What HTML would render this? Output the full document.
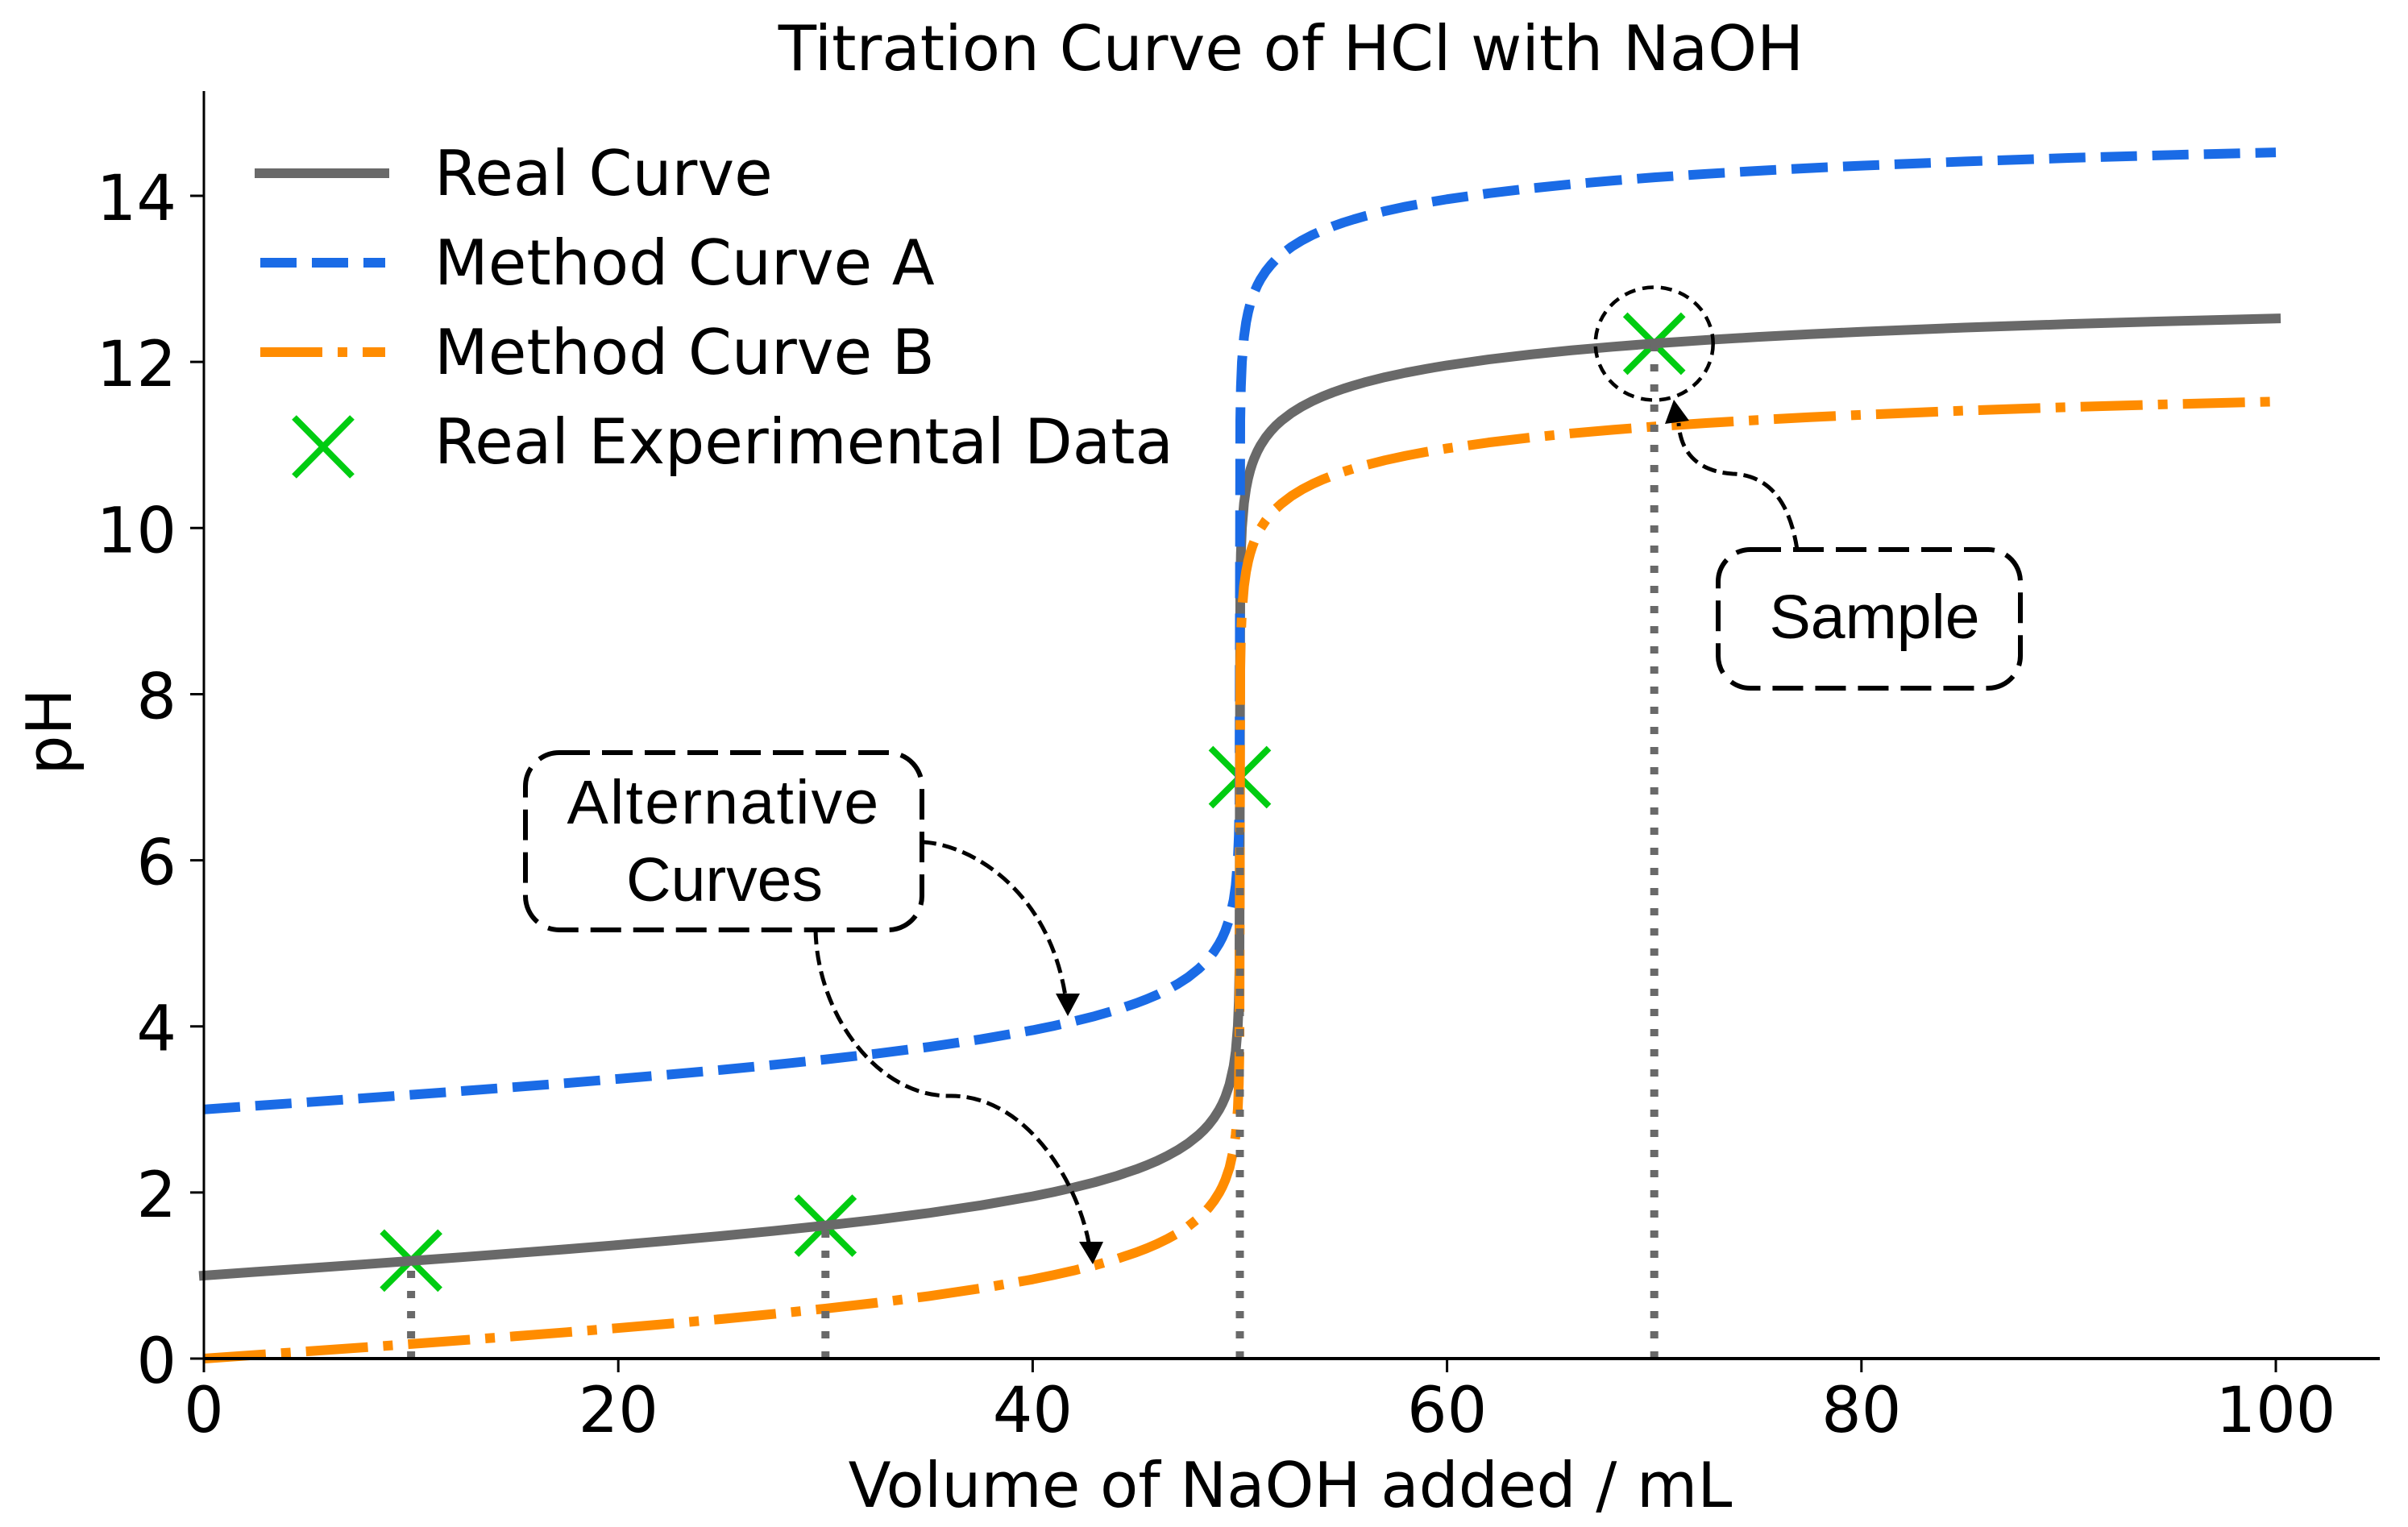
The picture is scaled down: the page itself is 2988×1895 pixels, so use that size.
<!DOCTYPE html>
<html lang="en">
<head>
<meta charset="utf-8">
<title>Titration Curve of HCl with NaOH</title>
<style>
html,body{margin:0;padding:0;background:#fff;}
svg{display:block;}
text{font-family:"DejaVu Sans",sans-serif;fill:#000;}
.note{font-family:"Liberation Sans",sans-serif;font-size:77px;text-anchor:middle;}
.ann{fill:none;stroke:#000;stroke-width:5px;stroke-dasharray:18 8;}
.box{fill:none;stroke:#000;stroke-width:6px;stroke-dasharray:38 15;}
</style>
</head>
<body>
<svg id="chart" xmlns="http://www.w3.org/2000/svg" width="2988" height="1895" viewBox="0 0 2988 1895">
  <rect width="2988" height="1895" fill="#fff"/>
  <text x="1602" y="87" font-size="77.4" text-anchor="middle">Titration Curve of HCl with NaOH</text>
  <g id="marks"></g>
  <line x1="253" y1="113" x2="253" y2="1688" stroke="#000" stroke-width="3"/>
  <line x1="252" y1="1686" x2="2953" y2="1686" stroke="#000" stroke-width="4"/>
  <g id="ticks"></g>
  <text x="1601" y="1870" font-size="77.4" text-anchor="middle">Volume of NaOH added / mL</text>
  <text transform="translate(88 908) rotate(-90)" font-size="77.4" text-anchor="middle">pH</text>

  <g>
    <line x1="316" y1="215" x2="483" y2="215" stroke="#696969" stroke-width="12"/>
    <text x="539" y="242" font-size="77.4">Real Curve</text>
    <line x1="323" y1="326" x2="478" y2="326" stroke="#1a6be6" stroke-width="12" stroke-dasharray="45 19"/>
    <text x="539" y="353" font-size="77.4">Method Curve A</text>
    <line x1="323" y1="437" x2="478" y2="437" stroke="#ff8c00" stroke-width="12" stroke-dasharray="77 19 12 19"/>
    <text x="539" y="464" font-size="77.4">Method Curve B</text>
    <path d="M365 518L437 591M437 518L365 591" fill="none" stroke="#00cc11" stroke-width="8"/>
    <text x="539" y="575" font-size="77.4">Real Experimental Data</text>
  </g>

  <g>
    <rect class="box" x="652" y="934" width="492" height="220" rx="42" ry="42"/>
    <text class="note" x="898" y="1022" style="letter-spacing:2.3px">Alternative</text>
    <text class="note" x="899" y="1118">Curves</text>
    <path class="ann" d="M1144 1045C1200 1047 1300 1100 1322 1236"/>
    <path d="M1325 1261L1310 1233L1340 1233Z" fill="#000"/>
    <path class="ann" d="M1012 1154C1014 1260 1090 1362 1180 1360C1270 1360 1335 1460 1351 1542"/>
    <path d="M1356 1569L1339 1541L1369 1541Z" fill="#000"/>
  </g>

  <g>
    <rect class="box" x="2132" y="682" width="375" height="172" rx="40" ry="40"/>
    <text class="note" x="2326" y="792">Sample</text>
    <path class="ann" d="M2230 682C2222 630 2200 590 2150 588C2105 585 2085 560 2083 525"/>
    <path d="M2077 496L2066 526L2096 522Z" fill="#000"/>
  </g>
</svg>

<script>
const volumes = [0,2.5,5,7.5,10,12.5,15,17.5,20,22.5,25,27.5,30,32.5,35,37.5,40,41,42,43,44,45,45.5,46,46.5,47,47.5,48,48.25,48.5,48.75,49,49.15,49.3,49.5,49.7,49.8,49.9,49.95,49.98,50,50.02,50.05,50.1,50.2,50.3,50.4,50.5,50.6,50.7,50.85,51,51.25,51.5,51.75,52,52.5,53,53.5,54,54.5,55,55.5,56,57,58,59,60,62,64,66,68,70,72.5,75,77.5,80,85,90,95,100];
const realPH = [1.000,1.044,1.087,1.131,1.176,1.222,1.269,1.317,1.368,1.421,1.477,1.537,1.602,1.673,1.753,1.845,1.954,2.005,2.061,2.123,2.195,2.279,2.327,2.380,2.441,2.510,2.591,2.690,2.749,2.817,2.898,2.996,3.067,3.152,3.299,3.521,3.698,4.000,4.301,4.699,7.000,9.301,9.699,10.000,10.300,10.476,10.600,10.697,10.776,10.842,10.926,10.996,11.092,11.170,11.236,11.292,11.387,11.464,11.529,11.585,11.634,11.678,11.717,11.753,11.816,11.870,11.917,11.959,12.030,12.089,12.140,12.183,12.222,12.264,12.301,12.334,12.363,12.414,12.456,12.492,12.523];
const methodAPH = [3.000,3.044,3.087,3.131,3.176,3.222,3.269,3.317,3.368,3.421,3.477,3.537,3.602,3.673,3.753,3.845,3.954,4.005,4.061,4.123,4.195,4.279,4.327,4.380,4.441,4.510,4.591,4.690,4.749,4.817,4.898,4.996,5.067,5.152,5.299,5.521,5.698,6.000,6.301,6.699,9.000,11.301,11.699,12.000,12.300,12.476,12.600,12.697,12.776,12.842,12.926,12.996,13.092,13.170,13.236,13.292,13.387,13.464,13.529,13.585,13.634,13.678,13.717,13.753,13.816,13.870,13.917,13.959,14.030,14.089,14.140,14.183,14.222,14.264,14.301,14.334,14.363,14.414,14.456,14.492,14.523];
const methodBPH = [0.000,0.044,0.087,0.131,0.176,0.222,0.269,0.317,0.368,0.421,0.477,0.537,0.602,0.673,0.753,0.845,0.954,1.005,1.061,1.123,1.195,1.279,1.327,1.380,1.441,1.510,1.591,1.690,1.749,1.817,1.898,1.996,2.067,2.152,2.299,2.521,2.698,3.000,3.301,3.699,6.000,8.301,8.699,9.000,9.300,9.476,9.600,9.697,9.776,9.842,9.926,9.996,10.092,10.170,10.236,10.292,10.387,10.464,10.529,10.585,10.634,10.678,10.717,10.753,10.816,10.870,10.917,10.959,11.030,11.089,11.140,11.183,11.222,11.264,11.301,11.334,11.363,11.414,11.456,11.492,11.523];
const sampleVolumes = [10,30,50,70];
const samplePH = [1.18,1.60,7.00,12.22];
const xTickValues = [0,20,40,60,80,100];
const yTickValues = [0,2,4,6,8,10,12,14];

const NS = 'http://www.w3.org/2000/svg';
const xScale = function (v) { return 253 + v * 25.71; };
const yScale = function (p) { return 1686 - p * 103.07; };
const marks = document.getElementById('marks');
const ticks = document.getElementById('ticks');

function make(tag, parent, attrs) {
  const el = document.createElementNS(NS, tag);
  Object.keys(attrs).forEach(function (k) { el.setAttribute(k, attrs[k]); });
  parent.appendChild(el);
  return el;
}

function curvePoints(values) {
  return values.map(function (p, i) {
    return xScale(volumes[i]).toFixed(2) + ',' + yScale(p).toFixed(2);
  }).join(' ');
}

// green crosses sit underneath every curve
sampleVolumes.forEach(function (v, i) {
  const cx = xScale(v), cy = yScale(samplePH[i]), r = 36;
  const cross = make('path', marks, {
    d: 'M' + (cx - r) + ' ' + (cy - r) + 'L' + (cx + r) + ' ' + (cy + r) +
       'M' + (cx + r) + ' ' + (cy - r) + 'L' + (cx - r) + ' ' + (cy + r),
    fill: 'none', stroke: '#00cc11', 'stroke-width': 8
  });
  
  
});

const realLine = make('polyline', marks, {
  points: curvePoints(realPH), fill: 'none', stroke: '#696969',
  'stroke-width': 12, 'stroke-linejoin': 'round', 'stroke-linecap': 'square'
});



const methodALine = make('polyline', marks, {
  points: curvePoints(methodAPH), fill: 'none', stroke: '#1a6be6',
  'stroke-width': 12, 'stroke-linejoin': 'round', 'stroke-dasharray': '45 19'
});



const methodBLine = make('polyline', marks, {
  points: curvePoints(methodBPH), fill: 'none', stroke: '#ff8c00',
  'stroke-width': 12, 'stroke-linejoin': 'round', 'stroke-dasharray': '77 19 12 19'
});



// dotted drop lines from the axis up to each sample
sampleVolumes.forEach(function (v, i) {
  const drop = make('line', marks, {
    x1: xScale(v), y1: yScale(0), x2: xScale(v), y2: yScale(samplePH[i]),
    stroke: '#696969', 'stroke-width': 10, 'stroke-dasharray': '9 16'
  });
  
  
});

// dashed ring around the sample point
const ring = make('ellipse', marks, {
  cx: xScale(sampleVolumes[3]), cy: yScale(samplePH[3]), rx: 73, ry: 70,
  fill: 'none', stroke: '#000', 'stroke-width': 4.5, 'stroke-dasharray': '14 9'
});



xTickValues.forEach(function (v) {
  const tick = make('line', ticks, {
    x1: xScale(v), y1: yScale(0), x2: xScale(v), y2: yScale(0) + 17,
    stroke: '#000', 'stroke-width': 3
  });
  
  
  const label = make('text', ticks, {
    x: xScale(v), y: 1777, 'font-size': 78, 'text-anchor': 'middle'
  });
  label.textContent = String(v);
  
  
});

yTickValues.forEach(function (p) {
  const tick = make('line', ticks, {
    x1: 236, y1: yScale(p), x2: 253, y2: yScale(p),
    stroke: '#000', 'stroke-width': 3
  });
  
  
  const label = make('text', ticks, {
    x: 219, y: yScale(p) + 30, 'font-size': 78, 'text-anchor': 'end'
  });
  label.textContent = String(p);
  
  
});
</script>
</body>
</html>
